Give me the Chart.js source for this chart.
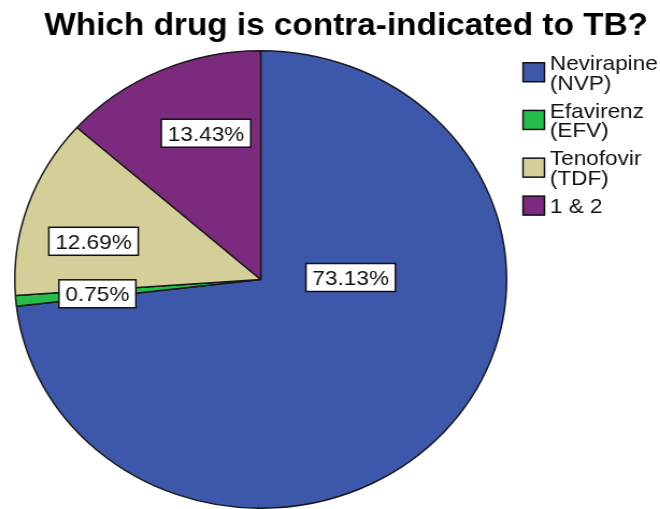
<!DOCTYPE html>
<html>
<head>
<meta charset="utf-8">
<title>Which drug is contra-indicated to TB?</title>
<script src="https://cdn.jsdelivr.net/npm/chart.js@4.4.0/dist/chart.umd.min.js"></script>
<style>
  html, body { margin: 0; padding: 0; background: #fff; overflow: hidden; }
  /* the whole plot is drawn a little wider than tall */
  #wrap { width: 614px; height: 509px; transform: scaleX(1.075); transform-origin: 0 0; }
</style>
</head>
<body>
<div id="wrap"><canvas id="drugChart"></canvas></div>
<script>
// Datos del gráfico
const chartTitle = 'Which drug is contra-indicated to TB?';
const drugs = [['Nevirapine', '(NVP)'], ['Efavirenz', '(EFV)'], ['Tenofovir', '(TDF)'], ['1 & 2']];
const shares = [73.13, 0.75, 12.69, 13.43];
const colors = ['#3d57ab', '#27bd4c', '#d4cf98', '#7b2a7d'];

// Ajuste de la posición de cada etiqueta (giro en grados y fracción del radio)
const labelTurn = [-43, 0, -5, 5];
const labelReach = [0.366, 0.667, 0.70, 0.677];

const FONT = '"Liberation Sans", Arial, sans-serif';

// Etiquetas de porcentaje en cajas blancas
const sliceLabels = {
    id: 'sliceLabels',
    afterDatasetsDraw(chart) {
        const ctx = chart.ctx;
        const arcs = chart.getDatasetMeta(0).data;
        ctx.save();
        ctx.font = '21px ' + FONT;
        ctx.textAlign = 'center';
        ctx.textBaseline = 'alphabetic';
        arcs.forEach((arc, i) => {
            const p = arc.getProps(['x', 'y', 'startAngle', 'endAngle', 'outerRadius'], true);
            const ang = (p.startAngle + p.endAngle) / 2 + labelTurn[i] * Math.PI / 180;
            const cx = p.x + Math.cos(ang) * p.outerRadius * labelReach[i];
            const cy = p.y + Math.sin(ang) * p.outerRadius * labelReach[i];
            const text = shares[i].toFixed(2) + '%';
            const w = ctx.measureText(text).width + 12;
            const h = 28;
            ctx.fillStyle = '#fff';
            ctx.fillRect(cx - w / 2, cy - h / 2, w, h);
            ctx.strokeStyle = '#111';
            ctx.lineWidth = 1.5;
            ctx.strokeRect(cx - w / 2, cy - h / 2, w, h);
            ctx.fillStyle = '#111';
            ctx.fillText(text, cx, cy + 7.5);
        });
        ctx.restore();
    }
};

// Título y leyenda a la derecha
const titleAndLegend = {
    id: 'titleAndLegend',
    afterDraw(chart) {
        const ctx = chart.ctx;
        ctx.save();
        ctx.fillStyle = '#000';
        ctx.font = 'bold 31px ' + FONT;
        ctx.textAlign = 'center';
        ctx.textBaseline = 'alphabetic';
        ctx.fillText(chartTitle, 322, 35);

        ctx.font = '21px ' + FONT;
        ctx.textAlign = 'left';
        const bg = chart.data.datasets[0].backgroundColor;
        chart.data.labels.forEach((lines, i) => {
            const top = 55 + i * 47.7;
            const lastBase = top + 15 + (lines.length - 1) * 19.5;
            const mid = (top + lastBase) / 2;
            ctx.fillStyle = bg[i];
            ctx.fillRect(486.5, mid - 9.5, 20, 19);
            ctx.strokeStyle = '#111';
            ctx.lineWidth = 1.5;
            ctx.strokeRect(486.5, mid - 9.5, 20, 19);
            ctx.fillStyle = '#111';
            lines.forEach((line, k) => {
                ctx.fillText(line, 511.5, top + 15 + k * 19.5);
            });
        });
        ctx.restore();
    }
};

const ctx = document.getElementById('drugChart').getContext('2d');
const drugChart = new Chart(ctx, {
    type: 'pie',
    data: {
        labels: drugs,
        datasets: [{
            data: shares,
            backgroundColor: colors,
            borderColor: '#1a1a1a',
            borderWidth: 1.5,
        }],
    },
    options: {
        responsive: true,
        maintainAspectRatio: false,
        animation: false,
        layout: {
            padding: { top: 50, left: 13, right: 142, bottom: 0 },
        },
        plugins: {
            legend: { display: false },
            title: { display: false },
            tooltip: { enabled: false },
        },
    },
    plugins: [sliceLabels, titleAndLegend],
});
</script>
</body>
</html>
